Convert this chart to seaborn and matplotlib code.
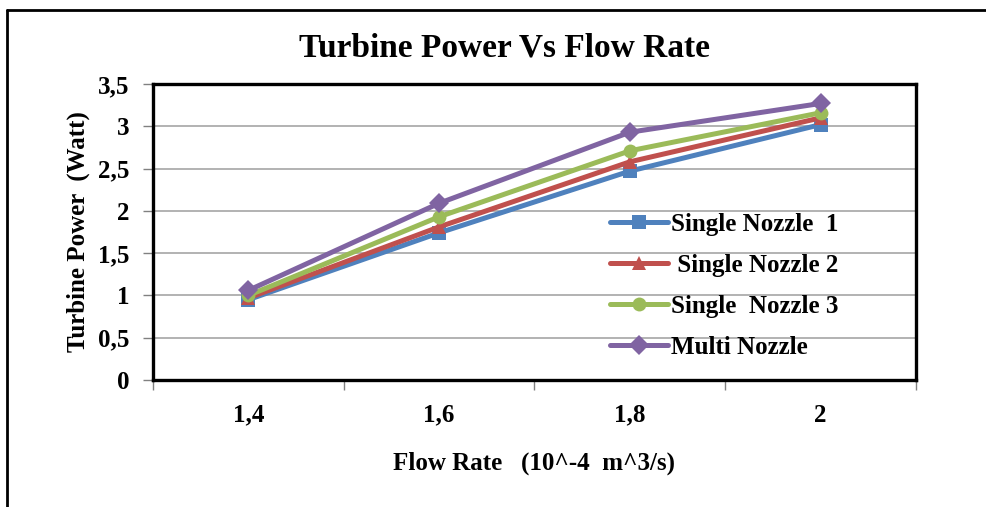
import pandas as pd
import matplotlib.pyplot as plt
import seaborn as sns
from matplotlib.lines import Line2D

sns.set_theme(style="white")
plt.rcParams['font.family'] = ['Liberation Serif', 'DejaVu Serif']
plt.rcParams['text.color'] = 'black'
plt.rcParams['axes.labelcolor'] = 'black'

# Dữ liệu
flow_rates = ['1,4', '1,6', '1,8', '2']
nozzle_1 = [0.95, 1.74, 2.47, 3.02]
nozzle_2 = [0.97, 1.81, 2.58, 3.10]
nozzle_3 = [1.00, 1.93, 2.71, 3.16]
multi = [1.06, 2.09, 2.93, 3.27]
series_names = ['Single Nozzle  1', ' Single Nozzle 2', 'Single  Nozzle 3', 'Multi Nozzle']
y_ticks = [0, 0.5, 1, 1.5, 2, 2.5, 3, 3.5]
y_tick_labels = ['0', '0,5', '1', '1,5', '2', '2,5', '3', '3,5']

colors = ['#4F81BD', '#C0504D', '#9BBB59', '#8064A2']
markers = ['s', '^', 'o', 'D']

df = pd.DataFrame({
    'flow': flow_rates * 4,
    'power': nozzle_1 + nozzle_2 + nozzle_3 + multi,
    'series': [n for n in series_names for _ in flow_rates],
})

fig = plt.figure(figsize=(9.87, 5.07), dpi=100)
ax = fig.add_axes([153 / 987, 127 / 507, 763 / 987, 296 / 507])

sns.lineplot(data=df, x='flow', y='power', hue='series', style='series',
             palette=colors, markers=markers, dashes=False, ax=ax,
             linewidth=3.6, markersize=10, markeredgewidth=0, sort=False)

ax.set_ylim(0, 3.5)
ax.set_xlim(-0.5, 3.5)
ax.set_yticks(y_ticks)
ax.set_yticklabels(y_tick_labels)
ax.yaxis.grid(True, color='#a6a6a6', linewidth=1.2)
ax.set_axisbelow(True)

# tick ở ranh giới giữa các nhóm, nhãn ở giữa
ax.set_xticks([-0.5, 0.5, 1.5, 2.5, 3.5])
ax.set_xticklabels([])
ax.set_xticks(range(len(flow_rates)), minor=True)
ax.set_xticklabels(flow_rates, minor=True)
ax.tick_params(axis='x', which='major', direction='out', length=7, width=1, color='#808080', bottom=True)
ax.tick_params(axis='x', which='minor', length=0, pad=17, labelsize=18, labelcolor='black')
ax.tick_params(axis='y', direction='out', length=7, width=1, color='#808080', left=True, pad=10,
               labelsize=18, labelcolor='black')
for lbl in ax.get_xticklabels(minor=True) + ax.get_yticklabels():
    lbl.set_fontweight('bold')

for s in ['left', 'top', 'right', 'bottom']:
    ax.spines[s].set_color('black')
    ax.spines[s].set_linewidth(2.4)

ax.set_xlabel('Flow Rate   (10^-4  m^3/s)', fontsize=18, fontweight='bold', labelpad=18)
ax.set_ylabel('Turbine Power  (Watt)', fontsize=18, fontweight='bold', labelpad=6)
fig.text(505 / 987, 1 - 48 / 507, 'Turbine Power Vs Flow Rate', ha='center', va='center',
         fontsize=24, fontweight='bold')

handles, labels = ax.get_legend_handles_labels()
ax.legend(handles, labels, frameon=False, loc='upper left', bbox_to_anchor=(0.599, 0.565),
          prop={'weight': 'bold', 'size': 18}, handlelength=2.3, handletextpad=0.15,
          labelspacing=0.72, borderaxespad=0, borderpad=0)

# khung ngoài
fig.add_artist(Line2D([7 / 987, 7 / 987], [0, 1 - 10 / 507], color='black', linewidth=2,
                      transform=fig.transFigure))
fig.add_artist(Line2D([7 / 987, 1], [1 - 10 / 507, 1 - 10 / 507], color='black', linewidth=2,
                      transform=fig.transFigure))

fig.savefig('out.png', dpi=100)
